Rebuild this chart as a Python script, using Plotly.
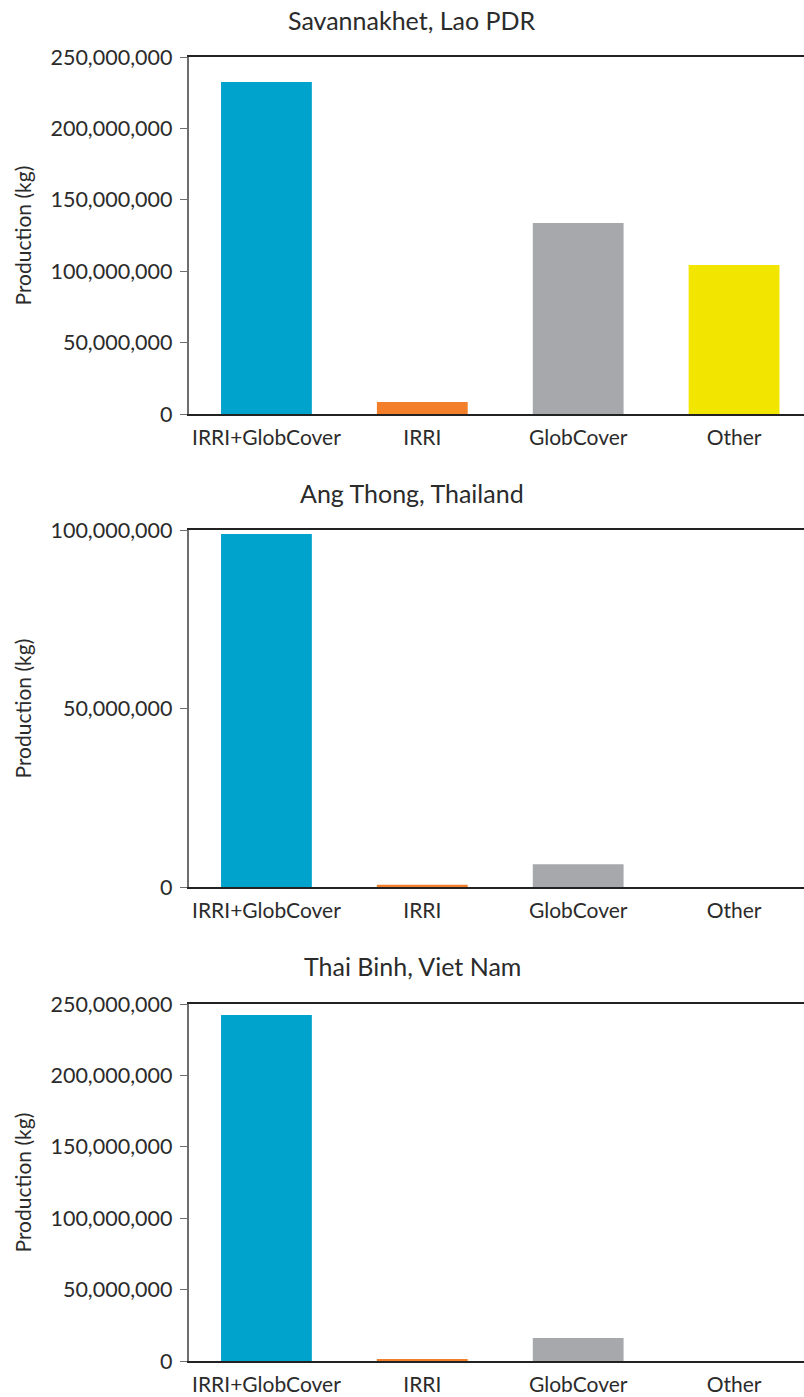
import plotly.graph_objects as go

categories = ["IRRI+GlobCover", "IRRI", "GlobCover", "Other"]
colors = ["#00A3CC", "#F47F2A", "#A7A8AB", "#F2E500"]

titles = ["Savannakhet, Lao PDR", "Ang Thong, Thailand", "Thai Binh, Viet Nam"]
savannakhet = [232500000, 8400000, 133700000, 104300000]
ang_thong = [98900000, 600000, 6400000, 0]
thai_binh = [242300000, 1400000, 16100000, 0]
series = [savannakhet, ang_thong, thai_binh]

y_ranges = [250000000, 100000000, 250000000]
y_dtick = [50000000, 50000000, 50000000]

# the plot area runs slightly past the right edge of the 804px window (clipped)
W, H = 812, 1397
# page pixel positions of the panels (top, bottom)
panels_px = [(57, 414), (530, 887), (1004, 1361)]
title_px = [20, 493, 966]
LEFT_PX = 188.5

FONT = "Lato"
TXT = "#2b2b2b"


def px_x(p):
    return p / W


def px_y(p):
    return 1 - p / H


fig = go.Figure()
for i, vals in enumerate(series):
    n = "" if i == 0 else str(i + 1)
    fig.add_trace(go.Bar(
        x=categories, y=vals, marker=dict(color=colors, line=dict(width=0)),
        xaxis="x" + n, yaxis="y" + n, showlegend=False, hoverinfo="x+y",
    ))
    top, bot = panels_px[i]
    fig.layout["xaxis" + n] = dict(
        domain=[px_x(LEFT_PX), 1], anchor="y" + n, automargin=False,
        showline=True, linecolor="#222222", linewidth=1.5, mirror=True,
        ticks="", showgrid=False, zeroline=False, ticklabelstandoff=4,
        tickfont=dict(family=FONT, size=21, color=TXT),
    )
    fig.layout["yaxis" + n] = dict(
        domain=[px_y(bot), px_y(top)], anchor="x" + n, automargin=False,
        range=[0, y_ranges[i]], dtick=y_dtick[i], tickformat=",d",
        showline=True, linecolor="#6d6d6d", linewidth=1.5,
        ticks="outside", ticklen=7, tickcolor="#6d6d6d", tickwidth=1.2,
        showgrid=False, zeroline=False, ticklabelstandoff=3,
        tickfont=dict(family=FONT, size=21.5, color=TXT),
    )
    fig.add_annotation(
        text=titles[i], xref="paper", yref="paper", x=px_x(412), y=px_y(title_px[i]),
        showarrow=False, font=dict(family=FONT, size=25, color=TXT),
        xanchor="center", yanchor="middle",
    )
    fig.add_annotation(
        text="Production (kg)", xref="paper", yref="paper", x=px_x(22),
        y=px_y((top + bot) / 2), textangle=-90, showarrow=False,
        font=dict(family=FONT, size=21, color=TXT), xanchor="center", yanchor="middle",
    )

fig.update_layout(
    template="none",
    width=W, height=H, margin=dict(l=0, r=0, t=0, b=0, autoexpand=False),
    paper_bgcolor="white", plot_bgcolor="white", bargap=0.4175,
    font=dict(family=FONT, color=TXT),
)
fig.write_html(
    "out.html",
    config={"displayModeBar": False},
    post_script="document.body.style.margin='0';document.body.style.overflow='hidden';",
)
